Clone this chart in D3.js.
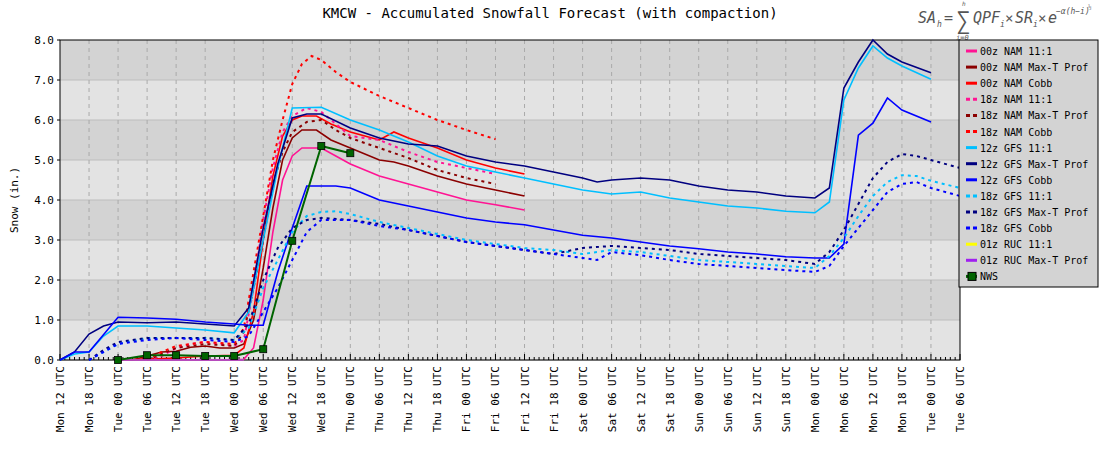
<!DOCTYPE html>
<html><head><meta charset="utf-8">
<script src="https://cdn.jsdelivr.net/npm/d3@7"></script>
<style>body{margin:0;background:#fff}text{font-family:"DejaVu Sans Mono",monospace}</style>
</head><body><svg id="c" width="1100" height="450"></svg>
<script>
const tickLabels=["Mon 12 UTC","Mon 18 UTC","Tue 00 UTC","Tue 06 UTC","Tue 12 UTC","Tue 18 UTC","Wed 00 UTC","Wed 06 UTC","Wed 12 UTC","Wed 18 UTC","Thu 00 UTC","Thu 06 UTC","Thu 12 UTC","Thu 18 UTC","Fri 00 UTC","Fri 06 UTC","Fri 12 UTC","Fri 18 UTC","Sat 00 UTC","Sat 06 UTC","Sat 12 UTC","Sat 18 UTC","Sun 00 UTC","Sun 06 UTC","Sun 12 UTC","Sun 18 UTC","Mon 00 UTC","Mon 06 UTC","Mon 12 UTC","Mon 18 UTC","Tue 00 UTC","Tue 06 UTC"];
const yTicks=[0,1,2,3,4,5,6,7,8];
// [hour since Mon 12 UTC, inches]
const nam00_11=[[12,0],[36,0],[38,0.02],[40,0.3],[42,1.5],[44,3.2],[46,4.5],[48,5.1],[50,5.3],[54,5.3],[57,5.1],[60,4.9],[66,4.6],[72,4.4],[78,4.2],[84,4.0],[90,3.88],[96,3.75]];
const nam00_maxt=[[12,0],[15,0],[18,0.1],[21,0.2],[24,0.22],[27,0.32],[30,0.35],[33,0.3],[36,0.3],[38,0.4],[40,1.0],[42,2.3],[44,3.8],[46,5.0],[48,5.55],[50,5.75],[53,5.75],[56,5.5],[60,5.3],[66,5.0],[69,4.95],[72,4.85],[78,4.6],[84,4.4],[90,4.25],[96,4.1]];
const nam00_cobb=[[12,0],[24,0.05],[30,0.1],[36,0.12],[38,0.3],[40,1.2],[42,3.0],[44,4.6],[46,5.6],[48,6.0],[50,6.1],[53,6.1],[56,5.9],[60,5.7],[63,5.6],[66,5.5],[69,5.7],[72,5.55],[78,5.3],[84,5.0],[90,4.8],[96,4.65]];
const nam18_11=[[18,0],[21,0.1],[24,0.3],[27,0.4],[30,0.45],[33,0.4],[36,0.35],[38,0.5],[40,1.8],[42,3.5],[44,4.8],[46,5.7],[48,6.1],[51,6.3],[54,6.2],[57,5.9],[60,5.6],[66,5.5],[72,5.2],[78,4.95],[84,4.8],[90,4.65]];
const nam18_maxt=[[18,0],[24,0.3],[30,0.4],[36,0.35],[38,0.7],[40,1.8],[42,3.0],[44,4.4],[46,5.2],[48,5.7],[51,5.95],[54,6.0],[57,5.75],[60,5.55],[66,5.3],[72,5.05],[78,4.75],[84,4.55],[90,4.4]];
const nam18_cobb=[[18,0],[21,0.2],[24,0.35],[30,0.45],[36,0.4],[38,0.8],[40,2.2],[42,3.6],[44,5.0],[46,6.0],[48,6.9],[50,7.4],[52,7.6],[54,7.5],[57,7.2],[60,6.95],[66,6.6],[72,6.3],[78,6.0],[84,5.75],[90,5.52]];
const gfs12_11=[[0,0],[3,0.15],[6,0.2],[9,0.6],[12,0.85],[18,0.85],[24,0.8],[30,0.75],[36,0.68],[39,1.2],[42,3.0],[45,4.8],[48,6.3],[54,6.32],[60,6.0],[66,5.75],[72,5.45],[78,5.1],[84,4.85],[90,4.7],[96,4.55],[102,4.4],[108,4.25],[114,4.15],[120,4.2],[126,4.05],[132,3.95],[138,3.85],[144,3.8],[150,3.72],[156,3.68],[159,3.95],[162,6.5],[165,7.3],[168,7.85],[171,7.55],[174,7.35],[180,7.02]];
const gfs12_maxt=[[0,0],[3,0.2],[6,0.65],[9,0.85],[12,0.95],[18,0.93],[24,0.95],[30,0.9],[36,0.85],[39,1.3],[42,3.3],[45,4.9],[48,6.05],[51,6.15],[54,6.15],[60,5.8],[66,5.55],[72,5.4],[78,5.35],[84,5.1],[90,4.95],[96,4.85],[102,4.7],[108,4.55],[111,4.45],[114,4.5],[120,4.55],[126,4.5],[132,4.35],[138,4.25],[144,4.2],[150,4.1],[156,4.05],[159,4.3],[162,6.8],[165,7.45],[168,8.0],[171,7.65],[174,7.45],[180,7.18]];
const gfs12_cobb=[[0,0],[3,0.2],[6,0.2],[12,1.07],[18,1.05],[24,1.02],[30,0.95],[36,0.9],[39,0.87],[42,0.87],[45,2.2],[48,3.3],[51,4.35],[57,4.35],[60,4.3],[66,4.0],[72,3.85],[78,3.7],[84,3.55],[90,3.45],[96,3.38],[102,3.25],[108,3.12],[114,3.05],[120,2.95],[126,2.85],[132,2.78],[138,2.7],[144,2.65],[150,2.58],[156,2.55],[159,2.55],[162,2.9],[165,5.62],[168,5.92],[171,6.55],[174,6.25],[180,5.95]];
const gfs18_11=[[6,0],[9,0.2],[12,0.4],[18,0.55],[24,0.55],[30,0.55],[36,0.5],[39,0.8],[42,1.8],[45,2.5],[48,3.2],[51,3.6],[54,3.7],[57,3.72],[60,3.65],[66,3.45],[72,3.3],[78,3.15],[84,3.0],[90,2.9],[96,2.8],[102,2.75],[108,2.65],[114,2.75],[120,2.7],[126,2.6],[132,2.5],[138,2.45],[144,2.4],[150,2.35],[156,2.3],[159,2.6],[162,3.05],[165,3.6],[168,4.1],[171,4.45],[174,4.62],[177,4.6],[180,4.48],[186,4.3]];
const gfs18_maxt=[[6,0],[9,0.25],[12,0.45],[18,0.55],[24,0.55],[30,0.55],[36,0.5],[39,0.9],[42,2.0],[45,2.8],[48,3.3],[51,3.5],[54,3.55],[60,3.5],[66,3.4],[72,3.25],[78,3.1],[84,2.95],[90,2.85],[96,2.75],[102,2.65],[108,2.8],[114,2.85],[120,2.8],[126,2.75],[132,2.65],[138,2.6],[144,2.55],[150,2.5],[156,2.4],[159,2.7],[162,3.25],[165,3.9],[168,4.55],[171,4.95],[174,5.15],[177,5.1],[180,5.0],[186,4.8]];
const gfs18_cobb=[[6,0],[9,0.2],[12,0.4],[18,0.5],[24,0.55],[30,0.5],[36,0.45],[39,0.6],[42,1.2],[45,1.8],[48,2.5],[51,3.2],[54,3.5],[60,3.5],[66,3.35],[72,3.25],[78,3.1],[84,2.95],[90,2.85],[96,2.75],[102,2.65],[108,2.55],[111,2.5],[114,2.7],[120,2.62],[126,2.5],[132,2.4],[138,2.35],[144,2.3],[150,2.25],[156,2.2],[159,2.35],[162,2.85],[165,3.3],[168,3.75],[171,4.2],[174,4.4],[177,4.45],[180,4.3],[186,4.1]];
const ruc01_11=[[12,0],[38,0]];
const ruc01_maxt=[[12,0],[38,0]];
const nws=[[12,0],[18,0.12],[24,0.12],[30,0.1],[36,0.1],[42,0.27],[48,2.98],[54,5.35],[60,5.17]];

const series=[
 {name:"00z NAM 11:1",data:nam00_11,color:"#ff1493",dash:false},
 {name:"00z NAM Max-T Prof",data:nam00_maxt,color:"#8b0000",dash:false},
 {name:"00z NAM Cobb",data:nam00_cobb,color:"#ff0000",dash:false},
 {name:"18z NAM 11:1",data:nam18_11,color:"#ff1493",dash:true},
 {name:"18z NAM Max-T Prof",data:nam18_maxt,color:"#8b0000",dash:true},
 {name:"18z NAM Cobb",data:nam18_cobb,color:"#ff0000",dash:true},
 {name:"12z GFS 11:1",data:gfs12_11,color:"#00bfff",dash:false},
 {name:"12z GFS Max-T Prof",data:gfs12_maxt,color:"#000080",dash:false},
 {name:"12z GFS Cobb",data:gfs12_cobb,color:"#0000ff",dash:false},
 {name:"18z GFS 11:1",data:gfs18_11,color:"#00bfff",dash:true},
 {name:"18z GFS Max-T Prof",data:gfs18_maxt,color:"#000080",dash:true},
 {name:"18z GFS Cobb",data:gfs18_cobb,color:"#0000ff",dash:true},
 {name:"01z RUC 11:1",data:ruc01_11,color:"#ffff00",dash:false},
 {name:"01z RUC Max-T Prof",data:ruc01_maxt,color:"#a020f0",dash:false},
 {name:"NWS",data:nws,color:"#006400",dash:false,marker:true}
];

const svg=d3.select("#c");
const L=60,R=960,T=40,B=360;
const x=d3.scaleLinear().domain([0,186]).range([L,R]);
const y=d3.scaleLinear().domain([0,8]).range([B,T]);

yTicks.slice(0,-1).forEach(v=>{
  svg.append("rect").attr("x",L).attr("y",y(v+1)).attr("width",R-L).attr("height",y(v)-y(v+1))
    .attr("fill",v%2===0?"#e3e3e3":"#d3d3d3");
  svg.append("line").attr("x1",L).attr("x2",R).attr("y1",y(v)).attr("y2",y(v)).attr("stroke","#bdbdbd");
});
tickLabels.forEach((t,i)=>{
  if(i>0&&i<tickLabels.length-1) svg.append("line").attr("x1",x(i*6)).attr("x2",x(i*6)).attr("y1",T).attr("y2",B)
   .attr("stroke","#aaa").attr("stroke-dasharray","4,4");
});
for(let h=0;h<=186;h++){svg.append("line").attr("x1",x(h)).attr("x2",x(h)).attr("y1",B).attr("y2",B-(h%6===0?6:3)).attr("stroke","#000");}
svg.append("rect").attr("x",L).attr("y",T).attr("width",R-L).attr("height",B-T).attr("fill","none").attr("stroke","#000");

tickLabels.forEach((t,i)=>{
  svg.append("text").attr("transform",`translate(${x(i*6)+4},${B+6}) rotate(-90)`)
   .attr("text-anchor","end").attr("font-size",11).text(t);
});
yTicks.forEach(v=>{
  svg.append("text").attr("x",L-6).attr("y",y(v)+4).attr("text-anchor","end").attr("font-size",11).text(v.toFixed(1));
  svg.append("line").attr("x1",L-3).attr("x2",L).attr("y1",y(v)).attr("y2",y(v)).attr("stroke","#000");
});
svg.append("text").attr("transform",`translate(18,${(T+B)/2}) rotate(-90)`).attr("text-anchor","middle").attr("font-size",11).text("Snow (in.)");
svg.append("text").attr("x",550).attr("y",18).attr("text-anchor","middle").attr("font-size",14).text("KMCW - Accumulated Snowfall Forecast (with compaction)");

// formula
const F="Liberation Serif,serif";
const f=svg.append("g").attr("fill","#555");
function ft(xx,yy,s,t,it){f.append("text").attr("x",xx).attr("y",yy).attr("font-size",s).attr("font-family",F).attr("font-style",it?"italic":"normal").text(t);}
ft(918,23,15,"SA",1);ft(937,27,8,"h",1);ft(944,23,15,"=");ft(956,29,24,"∑");
ft(962,6,6,"h",1);ft(956,40,7,"i=0",1);
ft(973,23,15,"QPF",1);ft(1000,27,8,"i",1);ft(1005,23,14,"×");
ft(1015,23,15,"SR",1);ft(1033,27,8,"i",1);ft(1038,23,14,"×");
ft(1048,23,15,"e",1);ft(1056,14,8,"−α(h−i)",1);ft(1088,9,6,"½");

const line=d3.line().x(d=>x(d[0])).y(d=>y(d[1]));
const g=svg.append("g");
series.forEach(s=>{
  g.append("path").attr("d",line(s.data)).attr("fill","none").attr("stroke",s.color)
   .attr("stroke-width",s.dash?2:(s.marker?2:1.6)).attr("stroke-dasharray",s.dash?"3,4":null);
  if(s.marker) g.selectAll(null).data(s.data).enter().append("rect")
   .attr("x",d=>x(d[0])-3.5).attr("y",d=>y(d[1])-3.5).attr("width",7).attr("height",7)
   .attr("fill",s.color).attr("stroke","#000").attr("stroke-width",0.8);
});

const lg=svg.append("g");
lg.append("rect").attr("x",959).attr("y",40).attr("width",139).attr("height",247).attr("fill","#d3d3d3").attr("stroke","#000");
series.forEach((s,i)=>{
  const yy=51+i*16.1;
  lg.append("line").attr("x1",966).attr("x2",977).attr("y1",yy).attr("y2",yy).attr("stroke",s.color).attr("stroke-width",3)
   .attr("stroke-dasharray",s.dash?"4,3":null);
  if(s.marker) lg.append("rect").attr("x",968).attr("y",yy-4).attr("width",8).attr("height",8).attr("fill",s.color).attr("stroke","#000");
  lg.append("text").attr("x",980).attr("y",yy+4).attr("font-size",10).text(s.name);
});
</script></body></html>
